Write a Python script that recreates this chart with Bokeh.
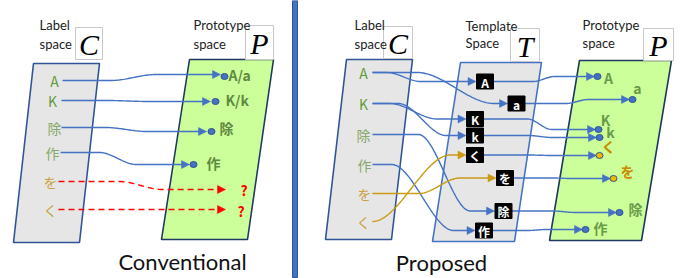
import numpy as np
from bokeh.plotting import figure
from bokeh.models import Range1d
from bokeh.core.properties import value
from bokeh.embed import file_html
from bokeh.resources import INLINE

# ---------------- data ----------------
# Conventional panel
conv_labels = ["A", "K", "除", "作", "を", "く"]
conv_label_x = [54, 52, 54, 52, 50, 50]
conv_label_y = [80, 100, 127, 152, 181, 209]
conv_start_x = [62, 61, 61, 60, 58, 58]
conv_tip_x = [220, 210, 206, 189, 225, 225]
conv_tip_y = [74, 101, 131, 164, 189, 209]
conv_known = [True, True, True, True, False, False]
conv_dot_x = [224, 215, 211, 193]
conv_dot_y = [76, 101, 131, 164]
conv_proto_text = ["A/a", "K/k", "除", "作", "?", "?"]
conv_proto_x = [228, 225, 219, 206, 240, 237]
conv_proto_y = [74, 99, 127, 162, 189, 210]

# Proposed panel
cls_labels = ["A", "K", "除", "作", "を", "く"]
cls_x = [363, 363, 363, 364, 364, 363]
cls_y = [72, 103, 134, 164, 193, 221]
tmpl_labels = ["A", "a", "K", "k", "く", "を", "除", "作"]
tmpl_x = [484.5, 516, 474.5, 474.5, 474.5, 504.5, 503, 483.5]
tmpl_y = [81, 103, 118.5, 135, 154.5, 177.5, 210.5, 230]
proto_labels = ["A", "a", "K", "k", "く", "を", "除", "作"]
proto_dot_x = [597, 632, 598, 599, 599, 613, 619, 585]
proto_dot_y = [76, 99, 129, 137, 155, 178, 212, 229]
proto_text_x = [608, 637, 605, 610, 608, 627, 635, 600]
proto_text_y = [77, 87, 119, 131, 145, 170, 208, 227]
# class index -> template index
cls_to_tmpl = [(0, 0), (0, 1), (1, 2), (1, 3), (2, 6), (3, 7), (4, 5), (5, 4)]

# panel outlines (parallelograms) and titles
panel_xs = [[33, 99, 79, 13], [189, 273, 247, 161], [346, 412, 391, 325],
            [460, 541, 514, 432], [579, 671, 641, 549]]
panel_ys = [[63, 63, 242, 242], [59, 59, 239, 239], [59, 59, 239, 239],
            [62, 62, 241, 241], [60, 60, 240, 240]]
panel_fill = ["#e7e6e6", "#ccff99", "#e7e6e6", "#e7e6e6", "#ccff99"]
panel_line = ["#2f5597", "#1f3864", "#2f5597", "#4472c4", "#1f3864"]

title_l1 = ["Label", "Prototype", "Label", "Template", "Prototype"]
title_l2 = ["space", "space", "space", "Space", "space"]
title_x = [39, 193, 354, 465, 582]
title_y1 = [24, 24, 24, 25, 24]
title_y2 = [43, 43, 43, 42, 42]
sym_text = ["C", "P", "C", "T", "P"]
sym_x0 = [75, 245, 383, 510, 643]
sym_x1 = [102, 273, 412, 539, 673]
sym_y0 = [27, 25, 26, 28, 28]
sym_y1 = [59, 59, 58, 61, 60]

captions = ["Conventional", "Proposed"]
caption_x = [182, 441]
caption_y = [261, 262]

# ---------------- styles ----------------
BLUE = "#4472c4"
ORANGE = "#c99a14"
RED = "#ff0000"
DOT_LINE = "#2f528f"
LATIN = value("Lato")
CJK = value("Noto Sans CJK JP")

def label_color(t):
    if t in ("A", "K"):
        return "#5f9a3a"
    if t in ("除", "作"):
        return "#86a86a"
    return "#c9a040"

p = figure(width=686, height=278, x_range=Range1d(0, 686), y_range=Range1d(278, 0),
           output_backend="svg", toolbar_location=None, min_border=0)
p.xaxis.visible = False
p.yaxis.visible = False
p.grid.visible = False
p.outline_line_color = None
p.background_fill_color = "white"
p.border_fill_color = "white"

# separator
p.quad(left=[292], right=[297], top=[0], bottom=[277], fill_color="#4472c4",
       line_color="#2f5597", line_width=1)

# panels
p.patches(xs=panel_xs, ys=panel_ys, fill_color=panel_fill, line_color=panel_line,
          line_width=1.6)

# symbol boxes
p.quad(left=sym_x0, right=sym_x1, top=sym_y0, bottom=sym_y1, fill_color="white",
       line_color="#c8c8c8", line_width=1)
p.text(x=[(a + b) / 2 for a, b in zip(sym_x0, sym_x1)],
       y=[(a + b) / 2 + 1 for a, b in zip(sym_y0, sym_y1)], text=sym_text,
       text_font=value("Liberation Serif"), text_font_style="italic",
       text_font_size="30px", text_align="center",
       text_baseline="middle", text_color="black")

# titles
p.text(x=title_x, y=title_y1, text=title_l1, text_font=LATIN, text_font_size="13px",
       text_baseline="middle", text_color="#222222")
p.text(x=title_x, y=title_y2, text=title_l2, text_font=LATIN, text_font_size="13px",
       text_baseline="middle", text_color="#222222")
p.text(x=caption_x, y=caption_y, text=captions, text_font=LATIN, text_font_size="22px",
       text_align="center", text_baseline="middle", text_color="#111111")


def edge(x0, y0, x1, y1, color, dash="solid", a=0.35, b=0.6, head=8):
    xe = x1 - head + 1
    L = xe - x0
    xs = np.linspace(x0, xe, 100)
    t = np.clip((xs - (x0 + a * L)) / ((b - a) * L), 0, 1)
    s = t * t * (3 - 2 * t)
    ys = y0 + (y1 - y0) * s
    p.line(x=xs, y=ys, line_color=color, line_width=1.4, line_dash=dash)
    p.patches(xs=[[x1, x1 - head, x1 - head]], ys=[[y1, y1 - 4, y1 + 4]],
              fill_color=color, line_color=color, line_width=0.5)


# ---- conventional edges ----
for i in range(len(conv_labels)):
    if conv_known[i]:
        edge(conv_start_x[i], conv_label_y[i], conv_tip_x[i], conv_tip_y[i], BLUE,
             a=0.32, b=0.62)
    else:
        edge(conv_start_x[i], conv_label_y[i], conv_tip_x[i], conv_tip_y[i], RED,
             dash="6 4", a=0.38, b=0.65)

p.ellipse(x=conv_dot_x, y=conv_dot_y, width=7, height=6, fill_color="#4472c4",
          line_color=DOT_LINE, line_width=1)

p.text(x=conv_label_x, y=conv_label_y, text=conv_labels, text_font=CJK,
       text_font_size="14px", text_align="center", text_baseline="middle",
       text_color=[label_color(t) for t in conv_labels])
p.text(x=conv_proto_x, y=conv_proto_y, text=conv_proto_text, text_font=CJK,
       text_font_size="14px", text_font_style="bold", text_baseline="middle",
       text_color=["#5f8a40"] * 4 + [RED, RED])

# ---- proposed edges ----
c2t_window = [(0.15, 0.5), (0.35, 0.95), (0.2, 0.75), (0.3, 0.85),
              (0.4, 0.85), (0.2, 0.85), (0.4, 0.75), (0.0, 0.9)]
for (ci, ti), (wa, wb) in zip(cls_to_tmpl, c2t_window):
    color = ORANGE if cls_labels[ci] in ("を", "く") else BLUE
    edge(372, cls_y[ci], tmpl_x[ti] - 9, tmpl_y[ti], color, a=wa, b=wb)

for ti in range(len(tmpl_labels)):
    edge(tmpl_x[ti] + 8.5, tmpl_y[ti], proto_dot_x[ti] - 3, proto_dot_y[ti], BLUE,
         a=0.42, b=0.65)

p.rect(x=tmpl_x, y=tmpl_y, width=17, height=15, fill_color="black", line_color="black")
p.text(x=tmpl_x, y=[y + 0.5 for y in tmpl_y], text=tmpl_labels, text_font=CJK,
       text_font_size="12px", text_font_style="bold", text_align="center",
       text_baseline="middle", text_color="white")

dot_fill = ["#f5b800" if t in ("を", "く") else "#4472c4" for t in proto_labels]
p.ellipse(x=proto_dot_x, y=proto_dot_y, width=7, height=6, fill_color=dot_fill,
          line_color=DOT_LINE, line_width=1)

p.text(x=cls_x, y=cls_y, text=cls_labels, text_font=CJK, text_font_size="14px",
       text_align="center", text_baseline="middle",
       text_color=[label_color(t) for t in cls_labels])
p.text(x=proto_text_x, y=proto_text_y, text=proto_labels, text_font=CJK,
       text_font_size="14px", text_font_style="bold", text_align="center",
       text_baseline="middle",
       text_color=["#c98a00" if t in ("を", "く") else "#6a9a4a" for t in proto_labels])

open("out.html", "w").write(file_html(p, INLINE))
